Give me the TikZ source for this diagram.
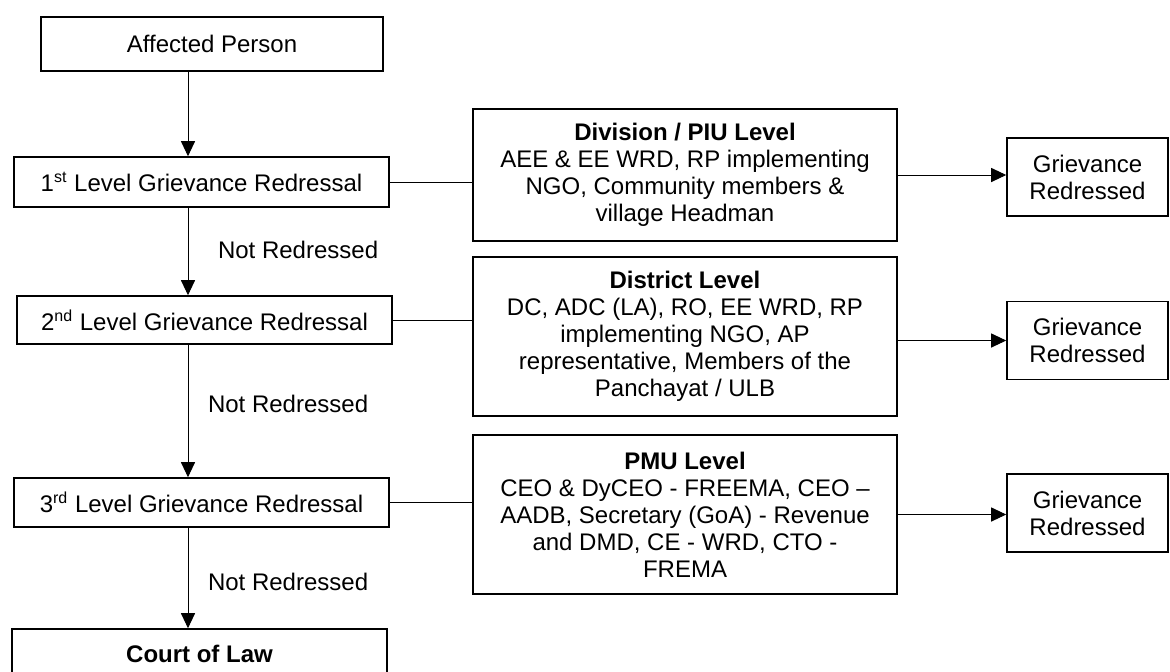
\documentclass[tikz,border=0pt]{standalone}
\usepackage{fontspec}
\setmainfont{Liberation Sans}
\usetikzlibrary{arrows.meta, positioning}

\begin{document}
\begin{tikzpicture}[x=0.5pt, y=-0.5pt, >={Triangle[length=7.5pt, width=7pt]},
    font=\fontsize{12}{13.5}\selectfont,
    box/.style={draw, line width=0.8pt, align=center, inner sep=2pt},
    levelbox/.style={box, minimum width=187.5pt, minimum height=25pt},
    panelbox/.style={box, minimum width=212pt},
    donebox/.style={box, minimum width=80.5pt, minimum height=39pt},
    link/.style={line width=0.5pt}]
  \useasboundingbox (0,0) rectangle (1170,671);
  \coordinate (spine) at (188,0);
  % left column: the escalation path
  \node[box, minimum width=171pt, minimum height=27pt] (affected) at (212,44) {Affected Person};
  \node[levelbox] (lvlone) at (201.5,182) {1\textsuperscript{st} Level Grievance Redressal};
  \node[levelbox, minimum height=24pt] (lvltwo) at (204.5,320) {2\textsuperscript{nd} Level Grievance Redressal};
  \node[levelbox, minimum height=24.5pt] (lvlthree) at (201.5,502.5) {3\textsuperscript{rd} Level Grievance Redressal};
  \node[levelbox, minimum height=25pt] (court) at (199.5,654) {\bfseries Court of Law};
  % committees at each level
  \node[panelbox, minimum height=66pt] (division) at (685,175)
    {{\bfseries Division / PIU Level}\\AEE \& EE WRD, RP implementing\\NGO, Community members \&\\village Headman};
  \node[panelbox, minimum height=79.5pt] (district) at (685,336.5)
    {{\bfseries District Level}\\DC, ADC (LA), RO, EE WRD, RP\\implementing NGO, AP\\representative, Members of the\\Panchayat / ULB};
  \node[panelbox, minimum height=79.5pt] (pmu) at (685,514.5)
    {{\bfseries PMU Level}\\CEO \& DyCEO - FREEMA, CEO --\\AADB, Secretary (GoA) - Revenue\\and DMD, CE - WRD, CTO -\\FREMA};
  % outcomes
  \node[donebox] (grone) at (1087.5,177) {Grievance\\Redressed};
  \node[donebox] (grtwo) at (1087.5,340.5) {Grievance\\Redressed};
  \node[donebox] (grthree) at (1087.5,513) {Grievance\\Redressed};
  % down arrows
  \draw[link, ->] (affected.south -| spine) -- (lvlone.north -| spine);
  \draw[link, ->] (lvlone.south -| spine) -- (lvltwo.north -| spine);
  \draw[link, ->] (lvltwo.south -| spine) -- (lvlthree.north -| spine);
  \draw[link, ->] (lvlthree.south -| spine) -- (court.north -| spine);
  \node[anchor=west] (nrone) at (211,250) {Not Redressed};
  \node[anchor=west] (nrtwo) at (201,404) {Not Redressed};
  \node[anchor=west] (nrthree) at (201,582) {Not Redressed};
  % level to committee
  \draw[link] (lvlone.east) -- (lvlone.east -| division.west);
  \draw[link] (lvltwo.east) -- (lvltwo.east -| district.west);
  \draw[link] (lvlthree.east) -- (lvlthree.east -| pmu.west);
  % committee to outcome
  \draw[link, ->] (division.east) -- (division.east -| grone.west);
  \draw[link, ->] (grtwo.west -| district.east) -- (grtwo.west);
  \draw[link, ->] (pmu.east) -- (pmu.east -| grthree.west);
\end{tikzpicture}
\end{document}
